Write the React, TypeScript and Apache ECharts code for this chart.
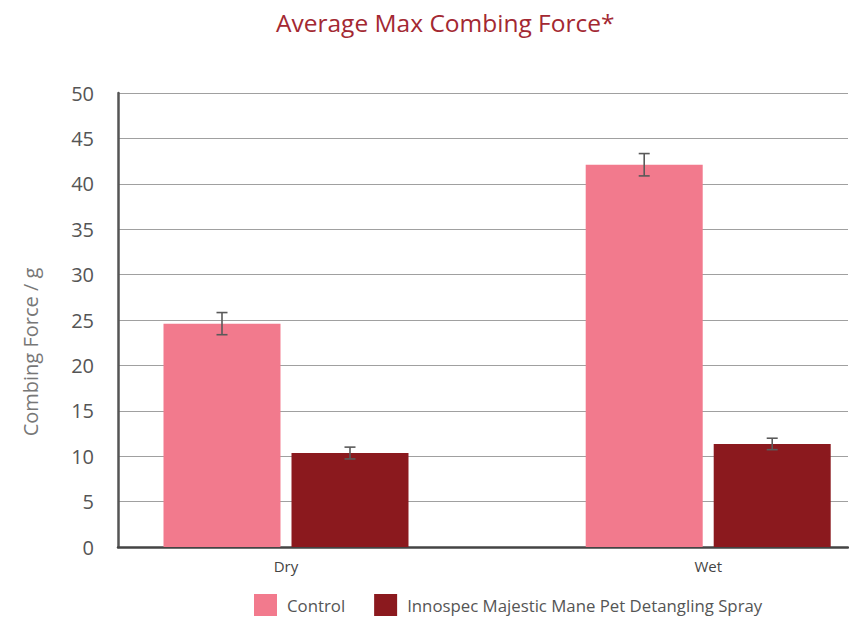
import React, { useEffect, useRef } from "react";
import * as echarts from "echarts";

const categories = ["Dry", "Wet"];
const categoryPositions = [0, 1];
const controlValues = [24.6, 42.1];
const controlErrors = [1.22, 1.23];
const sprayValues = [10.35, 11.35];
const sprayErrors = [0.65, 0.63];
const seriesNames = ["Control", "Innospec Majestic Mane Pet Detangling Spray"];
const yTicks = { min: 0, max: 50, interval: 5 };

const PINK = "#f27a8d";
const DARK = "#8b191e";
const BAR_W = 117;
const BAR_GAP = 11;
const FONT = "'Open Sans', 'Noto Sans', sans-serif";

export default function App() {
  const ref = useRef<HTMLDivElement>(null);
  useEffect(() => {
    if (!ref.current) return;
    const chart = echarts.init(ref.current, null, { renderer: "svg" });
    const off = (BAR_W + BAR_GAP) / 2;
    const errSeries = (name: string, vals: number[], errs: number[], sign: number) => ({
      type: "custom",
      name: name + " error",
      z: 5,
      silent: true,
      data: vals.map((v, i) => [categoryPositions[i], v, errs[i]]),
      encode: { x: 0, y: 1 },
      renderItem: (params: any, api: any) => {
        const cx = api.value(0);
        const v = api.value(1);
        const e = api.value(2);
        const top = api.coord([cx, v + e]);
        const bot = api.coord([cx, v - e]);
        const x = top[0] + sign * off;
        const cap = 5.5;
        const style = { stroke: "#5a5a5a", lineWidth: 1.6 };
        return {
          type: "group",
          children: [
            { type: "line", shape: { x1: x, y1: top[1], x2: x, y2: bot[1] }, style },
            { type: "line", shape: { x1: x - cap, y1: top[1], x2: x + cap, y2: top[1] }, style },
            { type: "line", shape: { x1: x - cap, y1: bot[1], x2: x + cap, y2: bot[1] }, style },
          ],
        };
      },
    });
    chart.setOption({
      animation: false,
      backgroundColor: "#ffffff",
      title: {
        text: "Average Max Combing Force*",
        left: 271,
        top: 5,
        textStyle: { color: "#a32832", fontSize: 24.5, fontWeight: "normal", fontFamily: FONT },
      },
      legend: {
        top: 589,
        left: 249,
        itemWidth: 23,
        itemHeight: 22,
        itemGap: 29,
        icon: "rect",
        data: seriesNames,
        textStyle: { color: "#555", fontSize: 16.8, fontFamily: FONT, padding: [0, 0, 0, 5] },
      },
      grid: { left: 118, right: 1, top: 93, bottom: 71, containLabel: false },
      xAxis: {
        type: "value",
        min: -0.3979,
        max: 1.3311,
        axisLine: { show: true, onZero: false, lineStyle: { color: "#444", width: 2.5 } },
        axisTick: { show: false },
        splitLine: { show: false },
        axisLabel: {
          customValues: categoryPositions,
          formatter: (v: number) => categories[categoryPositions.indexOf(v)] ?? "",
          color: "#444",
          fontSize: 15,
          fontFamily: FONT,
          margin: 11,
        },
      },
      yAxis: {
        type: "value",
        ...yTicks,
        axisLine: { show: true, onZero: false, lineStyle: { color: "#555", width: 2.5 } },
        axisTick: { show: false },
        axisLabel: { color: "#555", fontSize: 20, fontFamily: FONT, margin: 24 },
        splitLine: { show: true, lineStyle: { color: "#a0a0a0", width: 1.2 } },
      },
      graphic: [
        {
          type: "text",
          x: 30,
          y: 352,
          rotation: Math.PI / 2,
          style: {
            text: "Combing Force / g",
            fill: "#777",
            fontSize: 20,
            fontFamily: FONT,
            align: "center",
            verticalAlign: "middle",
          },
        },
      ],
      series: [
        {
          type: "bar",
          name: seriesNames[0],
          data: controlValues.map((v, i) => [categoryPositions[i], v]),
          barWidth: BAR_W,
          barGap: (BAR_GAP / BAR_W) * 100 + "%",
          itemStyle: { color: PINK },
        },
        {
          type: "bar",
          name: seriesNames[1],
          data: sprayValues.map((v, i) => [categoryPositions[i], v]),
          barWidth: BAR_W,
          itemStyle: { color: DARK },
        },
        errSeries(seriesNames[0], controlValues, controlErrors, -1),
        errSeries(seriesNames[1], sprayValues, sprayErrors, 1),
      ],
    });
    return () => chart.dispose();
  }, []);
  return (
    <div
      ref={ref}
      style={{ position: "fixed", left: 0, top: 0, width: 849, height: 618 }}
    />
  );
}
